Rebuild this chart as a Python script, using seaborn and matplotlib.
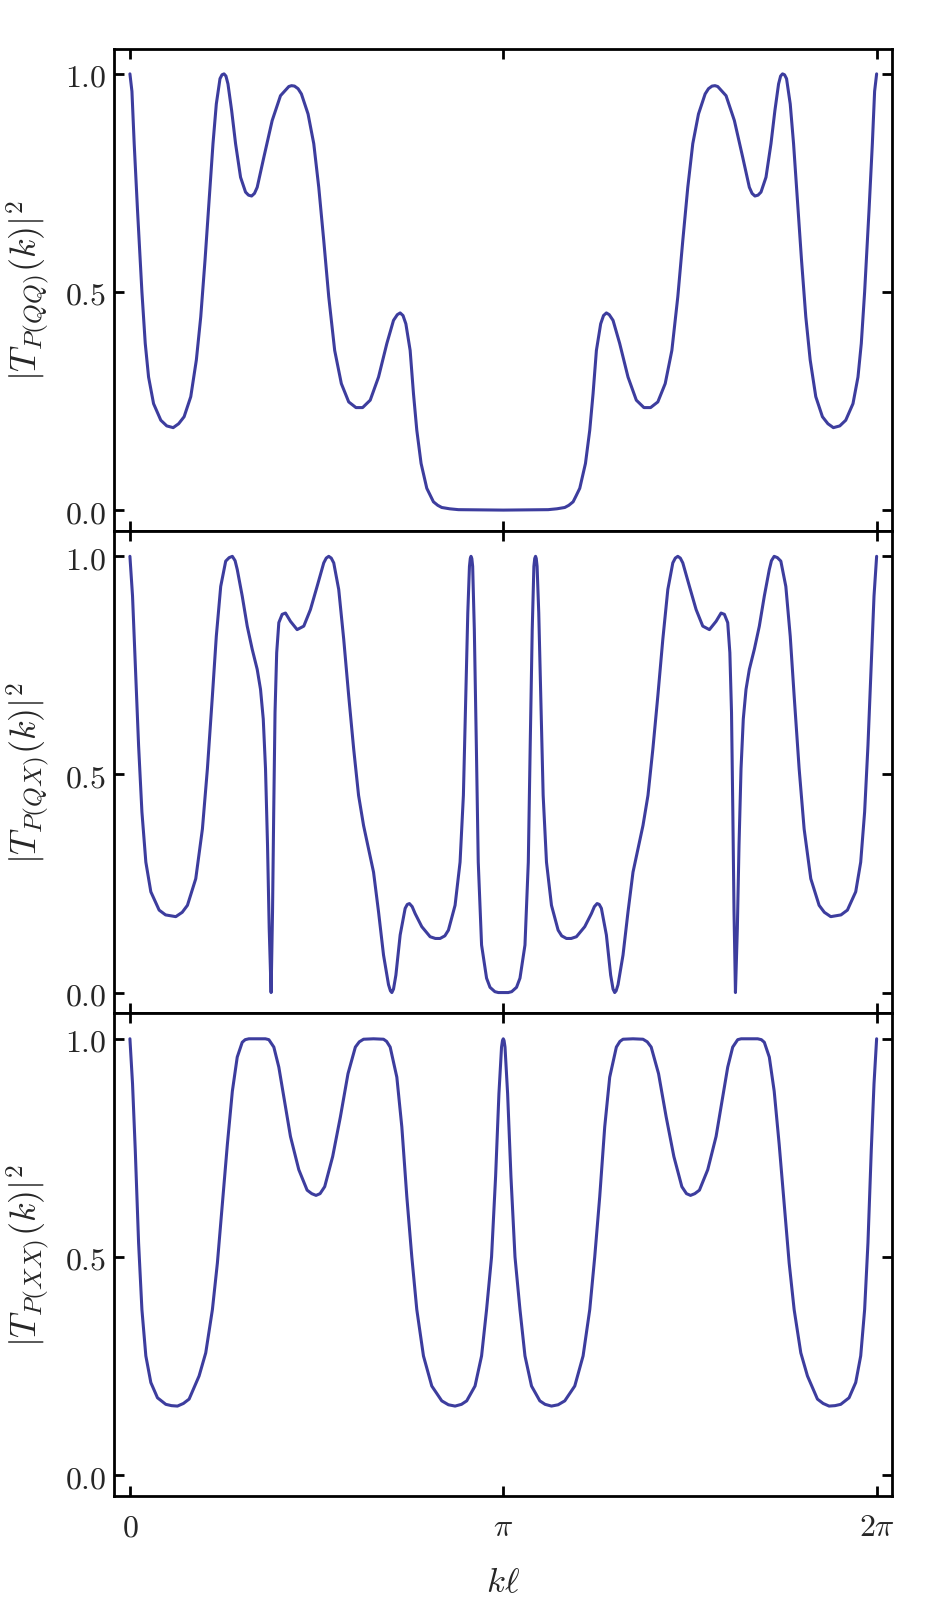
import numpy as np
import pandas as pd
import matplotlib
matplotlib.use("Agg")
import matplotlib.pyplot as plt
import seaborn as sns

# values for 0 <= k*l <= pi
# every curve is symmetric about k*l = pi, so the second half is its mirror image
kl_qq = [0.000, 0.017, 0.036, 0.064, 0.101, 0.129, 0.157, 0.199, 0.260, 0.310,
         0.364, 0.410, 0.456, 0.512, 0.559, 0.596, 0.632, 0.666, 0.699, 0.727,
         0.758, 0.775, 0.792, 0.808, 0.825, 0.856, 0.889, 0.931, 0.973, 0.998,
         1.024, 1.048, 1.071, 1.127, 1.197, 1.267, 1.337, 1.360, 1.385, 1.415,
         1.443, 1.499, 1.547, 1.589, 1.631, 1.673, 1.723, 1.779, 1.841, 1.902,
         1.958, 2.022, 2.092, 2.162, 2.218, 2.250, 2.274, 2.298, 2.322, 2.358,
         2.386, 2.414, 2.450, 2.498, 2.530, 2.554, 2.590, 2.624, 2.690, 2.764,
         3.1416]
t_qq = [1.000, 0.960, 0.840, 0.687, 0.500, 0.382, 0.305, 0.244, 0.206, 0.193,
        0.189, 0.198, 0.214, 0.260, 0.344, 0.443, 0.573, 0.710, 0.840, 0.931,
        0.989, 0.998, 1.000, 0.995, 0.977, 0.916, 0.840, 0.763, 0.729, 0.722,
        0.720, 0.726, 0.740, 0.809, 0.893, 0.950, 0.971, 0.973, 0.972, 0.966,
        0.954, 0.908, 0.840, 0.740, 0.618, 0.489, 0.366, 0.290, 0.248, 0.235,
        0.235, 0.252, 0.305, 0.382, 0.435, 0.448, 0.452, 0.446, 0.427, 0.366,
        0.267, 0.183, 0.107, 0.050, 0.032, 0.019, 0.011, 0.006, 0.003, 0.001,
        0.000]

kl_qx = [0.000, 0.022, 0.045, 0.073, 0.101, 0.134, 0.176, 0.246, 0.300, 0.386,
         0.440, 0.484, 0.554, 0.610, 0.652, 0.694, 0.727, 0.764, 0.806, 0.835,
         0.862, 0.885, 0.903, 0.945, 0.987, 1.029, 1.071, 1.099, 1.122, 1.141,
         1.158, 1.172, 1.188, 1.200, 1.210, 1.221, 1.235, 1.253, 1.281, 1.309,
         1.351, 1.407, 1.463, 1.519, 1.575, 1.631, 1.652, 1.673, 1.694, 1.715,
         1.757, 1.799, 1.841, 1.883, 1.924, 1.966, 2.008, 2.050, 2.092, 2.134,
         2.176, 2.192, 2.204, 2.218, 2.238, 2.274, 2.316, 2.334, 2.352, 2.375,
         2.400, 2.456, 2.526, 2.570, 2.610, 2.650, 2.680, 2.736, 2.778, 2.806,
         2.826, 2.843, 2.857, 2.864, 2.870, 2.877, 2.884, 2.898, 2.915, 2.931,
         2.959, 3.001, 3.030, 3.071, 3.100, 3.1416]
t_qx = [1.000, 0.909, 0.756, 0.566, 0.414, 0.299, 0.231, 0.189, 0.178, 0.174,
        0.184, 0.200, 0.261, 0.375, 0.513, 0.680, 0.817, 0.931, 0.989, 0.997,
        1.000, 0.990, 0.970, 0.909, 0.840, 0.787, 0.741, 0.695, 0.627, 0.513,
        0.337, 0.147, 0.000, 0.185, 0.414, 0.642, 0.779, 0.848, 0.867, 0.870,
        0.851, 0.832, 0.840, 0.878, 0.931, 0.985, 0.996, 1.000, 0.996, 0.985,
        0.924, 0.810, 0.680, 0.558, 0.452, 0.383, 0.330, 0.276, 0.185, 0.086,
        0.018, 0.004, 0.000, 0.008, 0.040, 0.132, 0.193, 0.202, 0.204, 0.197,
        0.181, 0.151, 0.128, 0.124, 0.124, 0.130, 0.143, 0.200, 0.299, 0.452,
        0.680, 0.870, 0.977, 0.995, 1.000, 0.995, 0.977, 0.832, 0.566, 0.299,
        0.109, 0.033, 0.012, 0.002, 0.000, 0.000]

kl_xx = [0.000, 0.022, 0.045, 0.073, 0.101, 0.134, 0.176, 0.232, 0.302, 0.350,
         0.400, 0.450, 0.498, 0.582, 0.638, 0.694, 0.736, 0.778, 0.820, 0.862,
         0.903, 0.945, 0.970, 1.001, 1.050, 1.113, 1.140, 1.169, 1.211, 1.253,
         1.295, 1.351, 1.421, 1.491, 1.530, 1.566, 1.600, 1.639, 1.706, 1.771,
         1.835, 1.897, 1.930, 1.966, 2.050, 2.134, 2.160, 2.190, 2.246, 2.288,
         2.330, 2.372, 2.414, 2.470, 2.540, 2.624, 2.680, 2.736, 2.790, 2.834,
         2.904, 2.959, 3.001, 3.043, 3.077, 3.105, 3.127, 3.135, 3.1416]
t_xx = [1.000, 0.897, 0.745, 0.532, 0.379, 0.273, 0.212, 0.177, 0.162, 0.159,
        0.158, 0.164, 0.174, 0.227, 0.280, 0.379, 0.486, 0.621, 0.758, 0.880,
        0.958, 0.992, 0.998, 1.000, 1.000, 1.000, 1.000, 0.998, 0.981, 0.935,
        0.867, 0.776, 0.700, 0.653, 0.645, 0.641, 0.645, 0.661, 0.730, 0.821,
        0.920, 0.981, 0.993, 0.999, 1.000, 0.999, 0.994, 0.981, 0.912, 0.798,
        0.638, 0.500, 0.379, 0.273, 0.204, 0.170, 0.161, 0.158, 0.162, 0.170,
        0.204, 0.273, 0.379, 0.500, 0.684, 0.874, 0.981, 0.996, 1.000]

y_labels = [r'$|T_{P(QQ)}(k)|^2$', r'$|T_{P(QX)}(k)|^2$', r'$|T_{P(XX)}(k)|^2$']
x_ticks = [0, np.pi, 2 * np.pi]
x_ticklabels = [r'$0$', r'$\pi$', r'$2\pi$']
y_ticks = [0.0, 0.5, 1.0]
y_ticklabels = [r'$0.0$', r'$0.5$', r'$1.0$']

LINE_COLOR = '#3d3d9e'


def full_period(kl, t):
    kl = np.asarray(kl)
    t = np.asarray(t)
    kl_all = np.concatenate([kl, 2 * np.pi - kl[-2::-1]])
    t_all = np.concatenate([t, t[-2::-1]])
    return pd.DataFrame({'kl': kl_all, 'T2': t_all})


sns.set_style('ticks')
plt.rcParams['mathtext.fontset'] = 'cm'
plt.rcParams['font.family'] = ['DejaVu Serif']
plt.rcParams['axes.linewidth'] = 2.0
plt.rcParams['xtick.major.width'] = 2.0
plt.rcParams['ytick.major.width'] = 2.0
plt.rcParams['xtick.major.size'] = 7
plt.rcParams['ytick.major.size'] = 7
plt.rcParams['xtick.direction'] = 'in'
plt.rcParams['ytick.direction'] = 'in'

fig = plt.figure(figsize=(9.46, 16.15), dpi=100)
axes = fig.subplots(3, 1, sharex=True)
fig.subplots_adjust(left=0.121, right=0.943, bottom=0.0731, top=0.9693, hspace=0)

panels = [full_period(kl_qq, t_qq), full_period(kl_qx, t_qx), full_period(kl_xx, t_xx)]

for ax, df, lab in zip(axes, panels, y_labels):
    sns.lineplot(data=df, x='kl', y='T2', ax=ax, color=LINE_COLOR,
                 linewidth=2.2, sort=False, estimator=None)
    ax.set_xlim(-0.13, 2 * np.pi + 0.13)
    ax.set_ylim(-0.048, 1.058)
    ax.set_yticks(y_ticks)
    ax.set_yticklabels(y_ticklabels, fontsize=23)
    ax.set_ylabel(lab, fontsize=26, labelpad=9)
    ax.set_xlabel('')
    ax.tick_params(axis='both', which='both', top=True, right=True,
                   direction='in', color='black')
    ax.tick_params(axis='y', pad=6)
    for s in ax.spines.values():
        s.set_color('black')

axes[-1].set_xticks(x_ticks)
axes[-1].set_xticklabels(x_ticklabels, fontsize=23)
axes[-1].tick_params(axis='x', pad=11)
axes[-1].set_xlabel(r'$k\ell$', fontsize=25, labelpad=16)

fig.savefig('out.png', dpi=100)
